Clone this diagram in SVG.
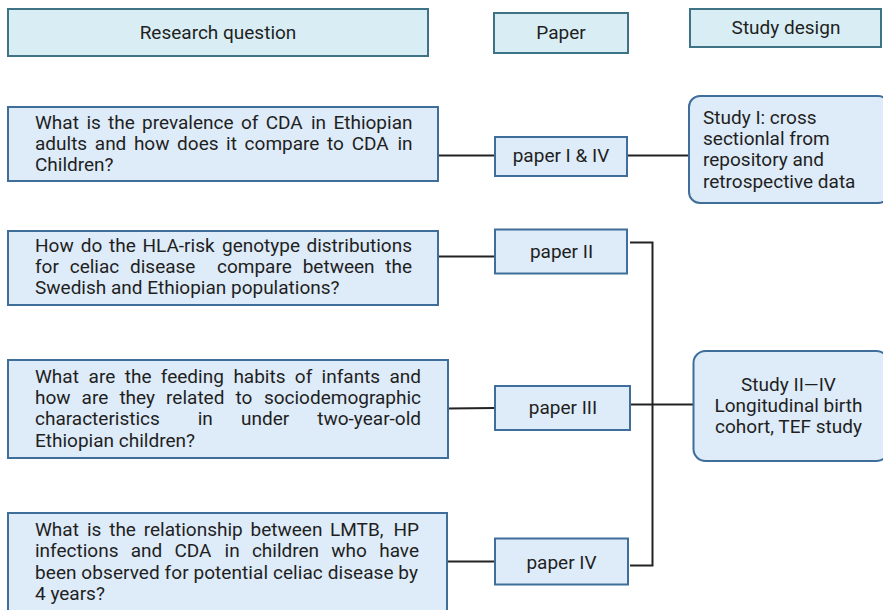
<svg xmlns="http://www.w3.org/2000/svg" width="883" height="610" viewBox="0 0 883 610">
<style>
text{font-family:Roboto,"Liberation Sans",sans-serif;font-size:19px;fill:#1f1f1f}
.hdr{fill:#d9eef4;stroke:#3d7385;stroke-width:2}
.q{fill:#deebf8;stroke:#3f6e9a;stroke-width:2}
.sd{fill:#deebf8;stroke:#3f6e9a;stroke-width:2}
.c{fill:none;stroke:#222;stroke-width:2}
.m{text-anchor:middle}
.e{text-anchor:end}
</style>
<rect width="883" height="610" fill="#fff"/>
<g id="connectors">
<line class="c" x1="438" y1="155.5" x2="495" y2="155.5"/>
<line class="c" x1="627" y1="155.5" x2="689" y2="155.5"/>
<line class="c" x1="438" y1="256.5" x2="495" y2="256.5"/>
<line class="c" x1="448" y1="408.5" x2="495" y2="408"/>
<line class="c" x1="447" y1="561.5" x2="495" y2="561.5"/>
<polyline class="c" points="630,242.5 652.5,242.5 652.5,565.5 630,565.5"/>
<line class="c" x1="630" y1="404.5" x2="693" y2="404.5"/>
</g>
<g id="h-rq"><rect class="hdr" x="8" y="9" width="420" height="47"/><text class="m" x="218" y="39">Research question</text></g>
<g id="h-paper"><rect class="hdr" x="494" y="13" width="134" height="40"/><text class="m" x="561" y="39">Paper</text></g>
<g id="h-sd"><rect class="hdr" x="690" y="9" width="191" height="38"/><text class="m" x="786" y="34">Study design</text></g>
<g id="q1"><rect class="q" x="8" y="107" width="430" height="74"/>
<text y="128.5"><tspan x="35">What</tspan><tspan x="86.5">is</tspan><tspan x="108.1">the</tspan><tspan x="142">prevalence</tspan><tspan x="241">of</tspan><tspan x="265.7">CDA</tspan><tspan x="311">in</tspan><tspan class="e" x="412.5">Ethiopian</tspan></text>
<text y="150"><tspan x="35">adults</tspan><tspan x="94.8">and</tspan><tspan x="133.9">how</tspan><tspan x="177.1">does</tspan><tspan x="226.1">it</tspan><tspan x="244.6">compare</tspan><tspan x="327">to</tspan><tspan x="351.7">CDA</tspan><tspan class="e" x="412.5">in</tspan></text>
<text x="35" y="171">Children?</text></g>
<g id="p1"><rect class="q" x="495" y="137" width="132" height="39"/><text class="m" x="561" y="162">paper I &amp; IV</text></g>
<g id="s1"><rect class="sd" x="689" y="96" width="200" height="107" rx="11"/>
<text x="703" y="123.5">Study I: cross</text><text x="703" y="145">sectionlal from</text><text x="703" y="166.3">repository and</text><text x="703" y="187.6">retrospective data</text></g>
<g id="q2"><rect class="q" x="8" y="231" width="430" height="74"/>
<text y="251.5"><tspan x="35">How</tspan><tspan x="80.7">do</tspan><tspan x="109">the</tspan><tspan x="142.5">HLA-risk</tspan><tspan x="222">genotype</tspan><tspan class="e" x="412">distributions</tspan></text>
<text y="273"><tspan x="35">for</tspan><tspan x="69.7">celiac</tspan><tspan x="130">disease</tspan><tspan x="217">compare</tspan><tspan x="302.7">between</tspan><tspan class="e" x="412">the</tspan></text>
<text x="35" y="294">Swedish and Ethiopian populations?</text></g>
<g id="p2"><rect class="q" x="495" y="229.5" width="132" height="44"/><text class="m" x="561.5" y="257.5">paper II</text></g>
<g id="q3"><rect class="q" x="8" y="360" width="440" height="98"/>
<text y="382.5"><tspan x="35">What</tspan><tspan x="88.6">are</tspan><tspan x="124.8">the</tspan><tspan x="160.8">feeding</tspan><tspan x="233.4">habits</tspan><tspan x="294.8">of</tspan><tspan x="321.6">infants</tspan><tspan class="e" x="421">and</tspan></text>
<text y="404"><tspan x="35">how</tspan><tspan x="81.6">are</tspan><tspan x="119.4">they</tspan><tspan x="166.1">related</tspan><tspan x="235.5">to</tspan><tspan class="e" x="421">sociodemographic</tspan></text>
<text y="425.3"><tspan x="35">characteristics</tspan><tspan x="197.7">in</tspan><tspan x="241">under</tspan><tspan class="e" x="421">two-year-old</tspan></text>
<text x="35" y="446.5">Ethiopian children?</text></g>
<g id="p3"><rect class="q" x="495" y="386" width="135" height="44"/><text class="m" x="563" y="414">paper III</text></g>
<g id="s2"><rect class="sd" x="693.5" y="351" width="195" height="110" rx="12"/>
<text class="m" x="788.5" y="390.5">Study II—IV</text><text class="m" x="788.5" y="411.8">Longitudinal birth</text><text class="m" x="788.5" y="433">cohort, TEF study</text></g>
<g id="q4"><rect class="q" x="8" y="513" width="439" height="105"/>
<text y="536"><tspan x="35">What</tspan><tspan x="87">is</tspan><tspan x="109.2">the</tspan><tspan x="143.7">relationship</tspan><tspan x="250.5">between</tspan><tspan x="330">LMTB,</tspan><tspan class="e" x="419">HP</tspan></text>
<text y="557.3"><tspan x="35">infections</tspan><tspan x="130.7">and</tspan><tspan x="174.4">CDA</tspan><tspan x="224.6">in</tspan><tspan x="251.9">children</tspan><tspan x="331.3">who</tspan><tspan class="e" x="419">have</tspan></text>
<text x="35" y="578.6" textLength="383" lengthAdjust="spacing">been observed for potential celiac disease by</text>
<text x="35" y="599.5">4 years?</text></g>
<g id="p4"><rect class="q" x="495" y="538.5" width="133" height="46"/><text class="m" x="561.5" y="568.5">paper IV</text></g>
</svg>
